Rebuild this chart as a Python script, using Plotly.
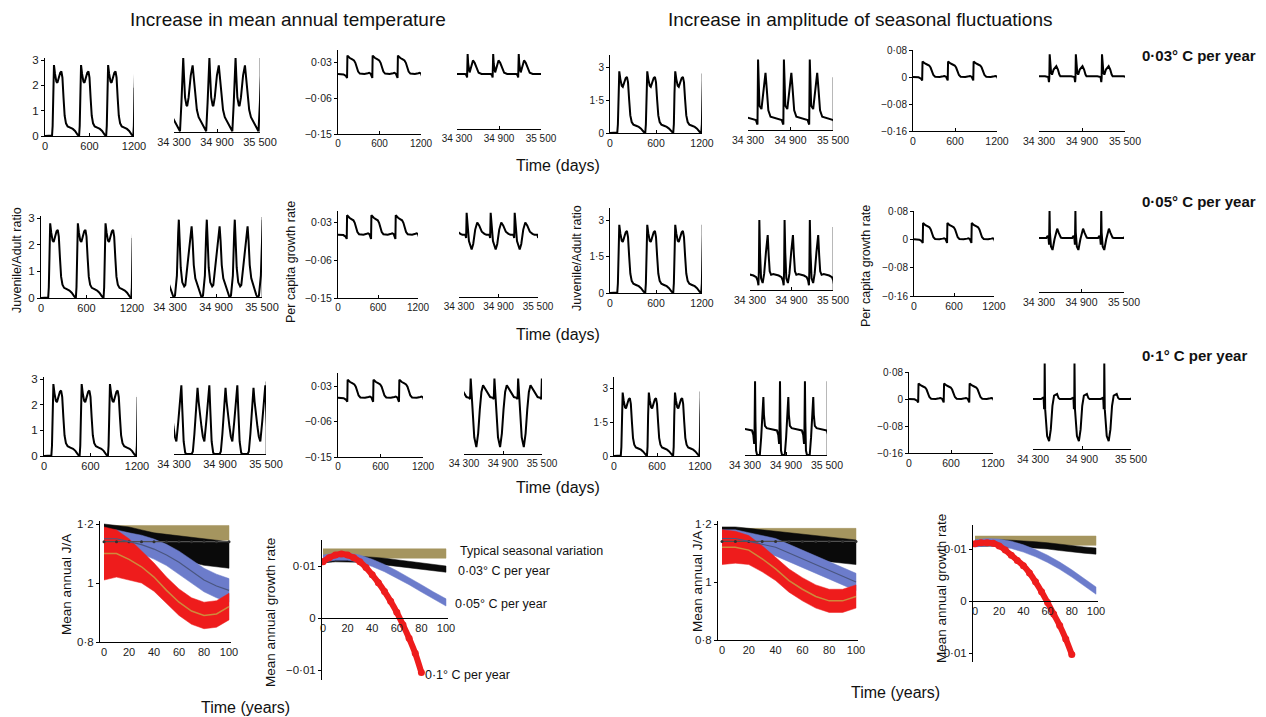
import math
import plotly.graph_objects as go

W, H = 1266, 717
PERIOD = 365
FONT = "Liberation Sans, Arial, sans-serif"

# ---------------- daily dynamics: one seasonal cycle per profile ----------------
# early years (0-1200 days): juvenile/adult ratio
EARLY_JA_LEAD_DAYS = [0, 50]
EARLY_JA_LEAD_VALS = [0.0, 0.0]
EARLY_JA_PHASE = 95
EARLY_JA_DAYS = [0, 8, 16, 26, 40, 58, 72, 90, 110, 126, 140, 155, 170, 188, 210, 245, 280, 310, 330, 345, 358]
EARLY_JA_VALS = [0.02, 0.4, 1.8, 2.8, 2.45, 2.15, 2.1, 2.3, 2.5, 2.55, 2.3, 1.5, 0.8, 0.5, 0.38, 0.33, 0.28, 0.2, 0.1, 0.05, 0.02]

# early years: per capita growth rate
EARLY_GR_LEAD_DAYS = [0, 80, 115]
EARLY_GR_LEAD_VALS = [0.0, -0.001, -0.005]
EARLY_GR_PHASE = 131
EARLY_GR_DAYS = [0, 5, 15, 40, 70, 100, 120, 140, 160, 185, 250, 300, 320, 340, 352, 360]
EARLY_GR_VALS = [-0.01, 0.046, 0.044, 0.04, 0.037, 0.034, 0.028, 0.016, 0.006, 0.001, 0.0, 0.002, 0.003, 0.001, -0.004, -0.009]

# late years (34300-35500 days), warming of mean temperature
LATE_JA_T = [
    (34384, [0, 20, 38, 45, 55, 70, 90, 100, 120, 150, 176, 195, 215, 235, 260, 290, 320, 345],
            [0.03, 1.2, 2.7, 3.0, 2.3, 1.4, 1.08, 1.05, 1.4, 2.3, 2.7, 2.2, 1.4, 0.9, 0.6, 0.42, 0.3, 0.12]),
    (34345, [0, 20, 45, 62, 70, 80, 95, 115, 140, 155, 180, 210, 237, 250, 265, 285, 310, 330, 350],
            [0.0, 0.05, 0.8, 2.4, 2.9, 2.2, 1.1, 0.55, 0.4, 0.45, 1.1, 2.1, 2.65, 2.1, 1.2, 0.7, 0.45, 0.3, 0.08]),
    (34396, [0, 12, 30, 50, 65, 135, 150, 170, 195, 211, 225, 245, 262, 280, 300, 325, 348],
            [2.75, 1.8, 0.5, 0.05, 0.0, 0.0, 0.1, 0.8, 2.0, 2.65, 2.1, 1.4, 1.1, 0.7, 0.5, 1.3, 2.4]),
]
LATE_GR_T = [
    (34452, [0, 8, 28, 50, 76, 100, 125, 157, 200, 330, 348, 357],
            [0.05, 0.025, 0.004, 0.02, 0.034, 0.028, 0.017, 0.003, 0.0, 0.0, -0.003, -0.009]),
    (34416, [0, 12, 35, 76, 100, 130, 161, 190, 230, 270, 300, 345, 357],
            [0.052, 0.025, -0.015, -0.035, -0.022, 0.012, 0.029, 0.022, 0.007, 0.002, 0.0, 0.0, -0.008]),
    (34403, [0, 10, 30, 55, 87, 115, 140, 165, 190, 230, 270, 300, 340, 355],
            [0.049, 0.02, -0.04, -0.1, -0.125, -0.09, -0.03, 0.015, 0.032, 0.02, 0.008, 0.002, 0.0, -0.003]),
]

# late years, increased amplitude of seasonal fluctuations
LATE_JA_A = [
    (34442, [0, 8, 20, 48, 75, 105, 122, 145, 176, 230, 300, 335, 350, 357],
            [3.2, 2.0, 1.1, 0.95, 1.8, 2.6, 1.9, 0.9, 0.6, 0.55, 0.5, 0.45, 0.3, 0.25]),
    (34435, [0, 10, 25, 48, 70, 95, 121, 135, 150, 170, 200, 280, 320, 340, 352, 358],
            [3.0, 1.6, 0.5, 0.3, 0.7, 1.6, 2.35, 1.5, 0.8, 0.65, 0.68, 0.62, 0.55, 0.4, 0.2, 0.8]),
    (34447, [0, 6, 15, 30, 70, 90, 122, 130, 145, 171, 250, 320, 340, 352, 358],
            [3.3, 1.5, 0.2, 0.0, 0.0, 0.8, 2.6, 1.8, 1.3, 1.2, 1.15, 1.1, 0.9, 0.5, 1.2]),
]
LATE_GR_A = [
    (34449, [0, 8, 20, 33, 55, 93, 115, 135, 149, 300, 345, 355, 360],
            [0.07, 0.035, 0.015, 0.01, 0.025, 0.035, 0.025, 0.01, 0.005, 0.005, 0.003, -0.012, 0.0]),
    (34449, [0, 5, 20, 42, 70, 108, 130, 160, 178, 320, 340, 350, 358],
            [0.08, 0.02, -0.02, -0.03, 0.0, 0.03, 0.018, 0.005, 0.004, 0.004, 0.01, 0.005, -0.015]),
    (34443, [0, 3, 6, 15, 30, 54, 75, 95, 115, 152, 170, 185, 320, 345, 352, 358, 362],
            [0.105, 0.0, -0.03, -0.06, -0.11, -0.125, -0.09, -0.02, 0.01, 0.015, 0.003, 0.0, 0.0, 0.003, 0.005, -0.03, -0.02]),
]

# ---------------- yearly means (0-100 years) ----------------
YEARS = [0, 10, 20, 30, 40, 50, 60, 70, 80, 90, 100]
YEARS_RED = [0, 5, 10, 15, 20, 25, 30, 35, 40, 45, 50, 55, 60, 65, 70, 75, 80]

JA_TYPICAL = [1.14] * 11
# mean temperature scenario
JA_T_TAN = (1.145, 1.195)
JA_T_BLACK_HI = [1.20, 1.195, 1.19, 1.18, 1.17, 1.165, 1.16, 1.155, 1.15, 1.145, 1.14]
JA_T_BLACK_LO = [1.13, 1.12, 1.115, 1.105, 1.095, 1.085, 1.075, 1.07, 1.06, 1.055, 1.05]
JA_T_BLUE = [1.15, 1.15, 1.14, 1.13, 1.115, 1.095, 1.07, 1.04, 1.01, 0.99, 0.975]
JA_T_BLUE_SD = [0.03, 0.03, 0.03, 0.032, 0.034, 0.036, 0.038, 0.04, 0.04, 0.04, 0.04]
JA_T_RED = [1.10, 1.10, 1.08, 1.055, 1.02, 0.975, 0.935, 0.905, 0.89, 0.895, 0.92]
JA_T_RED_SD = [0.09, 0.08, 0.07, 0.055, 0.048, 0.045, 0.045, 0.045, 0.045, 0.045, 0.045]
# amplitude scenario
JA_A_TAN = (1.145, 1.185)
JA_A_BLACK_HI = [1.19, 1.19, 1.185, 1.18, 1.175, 1.17, 1.165, 1.16, 1.155, 1.15, 1.145]
JA_A_BLACK_LO = [1.13, 1.125, 1.12, 1.115, 1.11, 1.10, 1.09, 1.08, 1.07, 1.065, 1.06]
JA_A_BLUE = [1.15, 1.15, 1.14, 1.13, 1.12, 1.10, 1.08, 1.06, 1.04, 1.02, 1.0]
JA_A_BLUE_SD = [0.03] * 11
JA_A_RED = [1.12, 1.12, 1.11, 1.08, 1.045, 1.005, 0.975, 0.95, 0.935, 0.935, 0.95]
JA_A_RED_SD = [0.06, 0.055, 0.05, 0.045, 0.04, 0.04, 0.04, 0.04, 0.04, 0.04, 0.04]

GR_T_TAN = (0.0115, 0.0133)
GR_T_BLACK = [0.0112, 0.0114, 0.0114, 0.0113, 0.0111, 0.0109, 0.0106, 0.0103, 0.01, 0.0097, 0.0094]
GR_T_BLUE = [0.0114, 0.0118, 0.0118, 0.0114, 0.0106, 0.0096, 0.0084, 0.0071, 0.0057, 0.0043, 0.003]
GR_T_RED = [0.0108, 0.0116, 0.0121, 0.0123, 0.0121, 0.0116, 0.0108, 0.0097, 0.0083, 0.0068, 0.0051,
            0.0032, 0.0011, -0.0013, -0.0039, -0.0068, -0.0105]
GR_A_TAN = (0.0107, 0.0125)
GR_A_BLACK = [0.0111, 0.0112, 0.0112, 0.0111, 0.011, 0.0108, 0.0106, 0.0103, 0.01, 0.0098, 0.0096]
GR_A_BLUE = [0.0111, 0.0113, 0.0112, 0.0108, 0.0101, 0.0092, 0.0081, 0.0068, 0.0053, 0.0037, 0.002]
GR_A_RED = [0.0110, 0.0112, 0.0112, 0.0111, 0.0106, 0.0098, 0.0088, 0.0078, 0.0068, 0.0054, 0.0037,
            0.0018, -0.0003, -0.0025, -0.0047, -0.0073, -0.0103]
GR_SD_BLACK = 0.0006
GR_SD_BLUE = 0.0007

TAN, BLACK, BLUE, RED, ORANGE = "#a5955f", "#0a0a0a", "#6c7ccb", "#ee1c1c", "#cf8a3c"

EARLY_XT = ([0, 600, 1200], ["0", "600", "1200"])
LATE_XT = ([34300, 34900, 35500], ["34 300", "34 900", "35 500"])
JA_T_YT = ([0, 1, 2, 3], ["0", "1", "2", "3"])
JA_A_YT = ([0, 1.5, 3], ["0", "1·5", "3"])
GR_T_YT = ([-0.15, -0.06, 0.03], ["\u22120·15", "\u22120·06", "0·03"])
GR_A_YT = ([-0.16, -0.08, 0, 0.08], ["\u22120·16", "\u22120·08", "0", "0·08"])


def tile(days, vals, phase, k_from, t_end):
    xs, ys = [], []
    k = k_from
    while phase + k * PERIOD <= t_end:
        base = phase + k * PERIOD
        for d, v in zip(days, vals):
            xs.append(base + d)
            ys.append(v)
        k += 1
    return xs, ys


def early_series(lead_d, lead_v, phase, days, vals):
    xs, ys = tile(days, vals, phase, 0, 1200)
    return list(lead_d) + xs, list(lead_v) + ys


def late_series(spec):
    phase, days, vals = spec
    k0 = math.floor((34300 - phase) / PERIOD) - 1
    return tile(days, vals, phase, k0, 35500)


def inv(p, v0, p0, v1, p1):
    return v0 + (p - p0) * (v1 - v0) / (p1 - p0)


fig = go.Figure()
axes = {}
shapes = []
count = [0]


def add_panel(xpx, xref, ypx, yref, xt, yt=None, xfont=10, yfont=10.5, x_at=None, xticks="inside"):
    count[0] += 1
    n = count[0]
    xk = "xaxis" if n == 1 else f"xaxis{n}"
    yk = "yaxis" if n == 1 else f"yaxis{n}"
    xr = "x" if n == 1 else f"x{n}"
    yr = "y" if n == 1 else f"y{n}"
    xrange = [inv(xpx[0], *xref), inv(xpx[1], *xref)]
    yrange = [inv(ypx[0], *yref), inv(ypx[1], *yref)]
    xa = dict(domain=[xpx[0] / W, xpx[1] / W], range=xrange, showline=True, linecolor="black",
              linewidth=1, ticks=xticks, ticklen=3, tickcolor="black", tickvals=xt[0], ticktext=xt[1],
              tickfont=dict(family=FONT, size=xfont, color="#1a1a1a"), showgrid=False, zeroline=False,
              fixedrange=True, automargin=False)
    if x_at is None:
        xa["anchor"] = yr
    else:
        xa["anchor"] = "free"
        xa["position"] = 1 - x_at / H
    ya = dict(domain=[1 - ypx[0] / H, 1 - ypx[1] / H], range=yrange, anchor=xr, showgrid=False,
              zeroline=False, fixedrange=True, automargin=False)
    if yt is None:
        ya["visible"] = False
    else:
        ya.update(showline=True, linecolor="black", linewidth=1, ticks="outside", ticklen=3,
                  tickcolor="black", tickvals=yt[0], ticktext=yt[1],
                  tickfont=dict(family=FONT, size=yfont, color="#1a1a1a"))
    axes[xk] = xa
    axes[yk] = ya
    return xr, yr


def add_line(ref, xs, ys, color="black", width=2, **kw):
    fig.add_trace(go.Scatter(x=xs, y=ys, mode="lines", line=dict(color=color, width=width),
                             xaxis=ref[0], yaxis=ref[1], showlegend=False, hoverinfo="skip", **kw))


def edge(ref, x, top):
    shapes.append(dict(type="line", xref=ref[0], yref=ref[1], x0=x, x1=x, y0=0, y1=top,
                       line=dict(color="#a0a0a0", width=1.5), layer="below"))


# ---------------- the three rows of daily panels ----------------
rows = [
    dict(a1=((45, 134), (0, 136, 3, 60), (136, 58)),
         a2=((174, 260), (0, 132, 3, 58), (132, 55)),
         a3=((338, 421), (0.03, 62, -0.15, 134), (134, 50)),
         a4=((457, 541), (0.03, 62, -0.15, 134), (129, 50)),
         b1=((610, 702), (3, 67, 0, 133), (133, 55)),
         b2=((748, 833), (0, 130, 3, 64), (130, 55)),
         b3=((913, 997), (0.08, 50, -0.16, 131), (131, 50)),
         b4=((1039, 1125), (0.08, 51, -0.16, 132), (131, 48)),
         edges=(1.9, 3.0, 2.7, 2.4)),
    dict(a1=((41, 132), (0, 298, 3, 218), (298, 216)),
         a2=((170, 262), (0, 297, 3, 217), (297, 214)),
         a3=((338, 418), (0.03, 222, -0.15, 298), (298, 211)),
         a4=((459, 538), (0.03, 222, -0.15, 298), (297, 211)),
         b1=((610, 702), (3, 220, 0, 293), (293, 208)),
         b2=((750, 833), (0, 290, 3, 220), (290, 210)),
         b3=((914, 994), (0.08, 211, -0.16, 296), (296, 211)),
         b4=((1039, 1124), (0.08, 211, -0.16, 296), (292, 206)),
         edges=(2.25, 3.0, 2.8, 2.7)),
    dict(a1=((44, 137), (0, 456, 3, 379), (456, 377)),
         a2=((174, 266), (0, 454, 3, 379), (454, 377)),
         a3=((338, 423), (0.03, 386, -0.15, 457), (457, 373)),
         a4=((464, 542), (0.03, 386, -0.15, 457), (454, 373)),
         b1=((614, 700), (3, 388, 0, 456), (456, 377)),
         b2=((745, 827), (0, 455, 3, 388), (455, 376)),
         b3=((909, 993), (0.08, 372, -0.16, 453), (453, 372)),
         b4=((1033, 1131), (0.08, 372, -0.16, 453), (449, 362)),
         edges=(2.3, 2.9, 2.85, 3.3)),
]

ej_x, ej_y = early_series(EARLY_JA_LEAD_DAYS, EARLY_JA_LEAD_VALS, EARLY_JA_PHASE, EARLY_JA_DAYS, EARLY_JA_VALS)
eg_x, eg_y = early_series(EARLY_GR_LEAD_DAYS, EARLY_GR_LEAD_VALS, EARLY_GR_PHASE, EARLY_GR_DAYS, EARLY_GR_VALS)

for i, r in enumerate(rows):
    xpx, yref, ypx = r["a1"]
    ref = add_panel(xpx, (0, xpx[0], 1200, xpx[1]), ypx, yref, EARLY_XT, JA_T_YT, xfont=11, yfont=11.5)
    add_line(ref, ej_x, ej_y)
    edge(ref, 1200, r["edges"][0])

    xpx, yref, ypx = r["a2"]
    ref = add_panel(xpx, (34300, xpx[0], 35500, xpx[1]), ypx, yref, LATE_XT, None, xfont=11)
    lx, ly = late_series(LATE_JA_T[i])
    add_line(ref, lx, ly)
    edge(ref, 35500, r["edges"][1])

    xpx, yref, ypx = r["a3"]
    ref = add_panel(xpx, (0, xpx[0], 1200, xpx[1]), ypx, yref, EARLY_XT, GR_T_YT, xfont=10, yfont=10.5)
    add_line(ref, eg_x, eg_y)

    xpx, yref, ypx = r["a4"]
    ref = add_panel(xpx, (34300, xpx[0], 35500, xpx[1]), ypx, yref, LATE_XT, None, xfont=10)
    lx, ly = late_series(LATE_GR_T[i])
    add_line(ref, lx, ly)

    xpx, yref, ypx = r["b1"]
    ref = add_panel(xpx, (0, xpx[0], 1200, xpx[1]), ypx, yref, EARLY_XT, JA_A_YT, xfont=10.5, yfont=10)
    add_line(ref, ej_x, ej_y)
    edge(ref, 1200, r["edges"][2])

    xpx, yref, ypx = r["b2"]
    ref = add_panel(xpx, (34300, xpx[0], 35500, xpx[1]), ypx, yref, LATE_XT, None, xfont=10.5)
    lx, ly = late_series(LATE_JA_A[i])
    add_line(ref, lx, ly)
    edge(ref, 35500, r["edges"][3])

    xpx, yref, ypx = r["b3"]
    ref = add_panel(xpx, (0, xpx[0], 1200, xpx[1]), ypx, yref, EARLY_XT, GR_A_YT, xfont=10.5, yfont=10)
    add_line(ref, eg_x, eg_y)

    xpx, yref, ypx = r["b4"]
    ref = add_panel(xpx, (34300, xpx[0], 35500, xpx[1]), ypx, yref, LATE_XT, None, xfont=10.5)
    lx, ly = late_series(LATE_GR_A[i])
    add_line(ref, lx, ly)


# ---------------- yearly summary panels ----------------
def band(ref, xs, lo, hi, color):
    fig.add_trace(go.Scatter(x=list(xs) + list(xs)[::-1], y=list(hi) + list(lo)[::-1], mode="lines",
                             fill="toself", fillcolor=color, line=dict(width=0.5, color=color),
                             xaxis=ref[0], yaxis=ref[1], showlegend=False, hoverinfo="skip"))


def ja_panel(ref, tan, bhi, blo, blue, blue_sd, red, red_sd):
    band(ref, YEARS, [tan[0]] * 11, [tan[1]] * 11, TAN)
    band(ref, YEARS, blo, bhi, BLACK)
    band(ref, YEARS, [c - s for c, s in zip(blue, blue_sd)], [c + s for c, s in zip(blue, blue_sd)], BLUE)
    band(ref, YEARS, [c - s for c, s in zip(red, red_sd)], [c + s for c, s in zip(red, red_sd)], RED)
    add_line(ref, YEARS, JA_TYPICAL, color="#505050", width=1.2)
    fig.add_trace(go.Scatter(x=YEARS, y=JA_TYPICAL, mode="markers", marker=dict(size=3, color="#303030"),
                             xaxis=ref[0], yaxis=ref[1], showlegend=False, hoverinfo="skip"))
    add_line(ref, YEARS, blue, color="#4a5680", width=1.2)
    add_line(ref, YEARS, red, color=ORANGE, width=1.5)


def gr_panel(ref, tan, black, blue, red):
    band(ref, YEARS, [tan[0]] * 11, [tan[1]] * 11, TAN)
    band(ref, YEARS, [c - GR_SD_BLACK for c in black], [c + GR_SD_BLACK for c in black], BLACK)
    band(ref, YEARS, [c - GR_SD_BLUE for c in blue], [c + GR_SD_BLUE for c in blue], BLUE)
    fig.add_trace(go.Scatter(x=YEARS_RED, y=red, mode="lines+markers",
                             line=dict(color=RED, width=6, shape="spline"),
                             marker=dict(size=7, color=RED),
                             xaxis=ref[0], yaxis=ref[1], showlegend=False, hoverinfo="skip"))


YR_XT = ([0, 20, 40, 60, 80, 100], ["0", "20", "40", "60", "80", "100"])
JA_YT = ([0.8, 1.0, 1.2], ["0·8", "1", "1·2"])
GR_YT = ([-0.01, 0, 0.01], ["\u22120·01", "0", "0·01"])

ref = add_panel((100, 231), (0, 104, 100, 229), (642, 521), (0.8, 642, 1.2, 524), YR_XT, JA_YT,
                xfont=11, yfont=11.5, xticks="")
ja_panel(ref, JA_T_TAN, JA_T_BLACK_HI, JA_T_BLACK_LO, JA_T_BLUE, JA_T_BLUE_SD, JA_T_RED, JA_T_RED_SD)

ref = add_panel((322, 448), (0, 323, 100, 446), (680, 540), (0, 618, 0.01, 566), YR_XT, GR_YT,
                xfont=11, yfont=11.5, x_at=618, xticks="")
gr_panel(ref, GR_T_TAN, GR_T_BLACK, GR_T_BLUE, GR_T_RED)

ref = add_panel((718, 858), (0, 722, 100, 856), (640, 521), (0.8, 640, 1.2, 524), YR_XT, JA_YT,
                xfont=11, yfont=11.5, xticks="")
ja_panel(ref, JA_A_TAN, JA_A_BLACK_HI, JA_A_BLACK_LO, JA_A_BLUE, JA_A_BLUE_SD, JA_A_RED, JA_A_RED_SD)

ref = add_panel((973, 1098), (0, 975, 100, 1096), (662, 525), (0, 601, 0.01, 549), YR_XT, GR_YT,
                xfont=11, yfont=11.5, x_at=601, xticks="")
gr_panel(ref, GR_A_TAN, GR_A_BLACK, GR_A_BLUE, GR_A_RED)


# ---------------- text ----------------
def label(text, x, y, size, angle=0, bold=False, xanchor="center", yanchor="middle"):
    return dict(text=f"<b>{text}</b>" if bold else text, x=x / W, y=1 - y / H, xref="paper", yref="paper",
                showarrow=False, textangle=angle, xanchor=xanchor, yanchor=yanchor,
                font=dict(family=FONT, size=size, color="#111"))


annotations = [
    label("Increase in mean annual temperature", 288, 20, 19),
    label("Increase in amplitude of seasonal fluctuations", 860, 20, 19),
    label("0·03° C per year", 1140, 55, 15, bold=True, xanchor="left"),
    label("0·05° C per year", 1140, 202, 15, bold=True, xanchor="left"),
    label("0·1° C per year", 1140, 355, 15, bold=True, xanchor="left"),
    label("Time (days)", 558, 165, 16),
    label("Time (days)", 558, 334, 16),
    label("Time (days)", 558, 487, 16),
    label("Juvenile/Adult ratio", 17, 260, 12.5, angle=-90),
    label("Per capita growth rate", 291, 262, 12.5, angle=-90),
    label("Juvenile/Adult ratio", 577, 258, 12.5, angle=-90),
    label("Per capita growth rate", 866, 266, 12.5, angle=-90),
    label("Mean annual J/A", 66, 585, 13.5, angle=-90),
    label("Mean annual growth rate", 270, 613, 13.5, angle=-90),
    label("Mean annual J/A", 697, 582, 13.5, angle=-90),
    label("Mean annual growth rate", 941, 589, 13.5, angle=-90),
    label("Time (years)", 245, 707, 16),
    label("Time (years)", 895, 692, 16),
    label("Typical seasonal variation", 458, 551, 12.5, xanchor="left"),
    label("0·03° C per year", 456, 571, 12.5, xanchor="left"),
    label("0·05° C per year", 453, 604, 12.5, xanchor="left"),
    label("0·1° C per year", 423, 675, 12.5, xanchor="left"),
]

fig.update_layout(
    width=W, height=H, margin=dict(l=0, r=0, t=0, b=0, pad=0),
    paper_bgcolor="white", plot_bgcolor="rgba(0,0,0,0)",
    showlegend=False, annotations=annotations, shapes=shapes,
    **axes,
)

fig.write_html("out.html")
